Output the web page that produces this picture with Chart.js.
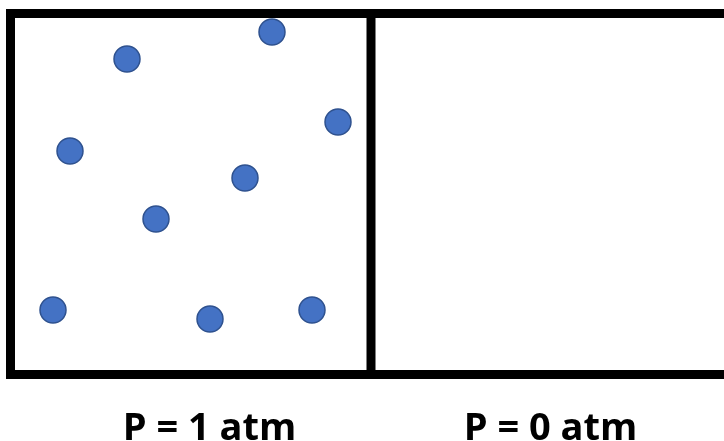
<!DOCTYPE html>
<html>
<head>
<meta charset="utf-8">
<script src="https://cdn.jsdelivr.net/npm/chart.js@4/dist/chart.umd.min.js"></script>
<style>
  html, body { margin: 0; padding: 0; background: #fff; }
  #wrap { width: 724px; height: 441px; }
</style>
</head>
<body>
<div id="wrap"><canvas id="gasChart" width="724" height="441"></canvas></div>
<script>
// Molecule positions (diagram units, y grows downward)
const moleculeX = [127, 272, 338, 70, 245, 156, 53, 210, 312];
const moleculeY = [59, 32, 122, 151, 178, 219, 310, 319, 310];

// Container walls: outer box (open to the right) and the divider
const wallX = [730, 10.5, 10.5, 730, null, 371, 371];
const wallY = [13.5, 13.5, 374.5, 374.5, null, 13.5, 374.5];

// Pressure labels under each chamber
const labelText = ['P = 1 atm', 'P = 0 atm'];
const labelX = [209.5, 550.5];
const labelY = [440, 440];

const toPoints = (xs, ys) => xs.map((x, i) => (x === null ? { x: null, y: null } : { x: x, y: ys[i] }));

const labelPlugin = {
    id: 'pressureLabels',
    afterDraw(chart) {
        const ctx = chart.ctx;
        const xs = chart.scales.x;
        const ys = chart.scales.y;
        ctx.save();
        ctx.fillStyle = '#000000';
        ctx.font = 'bold 38px "Open Sans"';
        ctx.textAlign = 'center';
        ctx.textBaseline = 'alphabetic';
        labelText.forEach((t, i) => {
            ctx.fillText(t, xs.getPixelForValue(labelX[i]), ys.getPixelForValue(labelY[i]));
        });
        ctx.restore();
    }
};

new Chart(document.getElementById('gasChart').getContext('2d'), {
    type: 'scatter',
    data: {
        datasets: [
            {
                label: 'Walls',
                type: 'line',
                data: toPoints(wallX, wallY),
                borderColor: '#000000',
                borderWidth: 9,
                borderJoinStyle: 'miter',
                borderCapStyle: 'butt',
                pointRadius: 0,
                spanGaps: false,
                fill: false,
                tension: 0,
                clip: false,
                order: 2
            },
            {
                label: 'Molecules',
                data: toPoints(moleculeX, moleculeY),
                backgroundColor: '#4472C4',
                borderColor: '#2F528F',
                borderWidth: 1.5,
                pointRadius: 13,
                pointHoverRadius: 13,
                clip: false,
                order: 1
            }
        ]
    },
    options: {
        responsive: false,
        animation: false,
        layout: { padding: 0, autoPadding: false },
        plugins: {
            legend: { display: false },
            tooltip: { enabled: false }
        },
        scales: {
            x: { type: 'linear', min: 0, max: 724, display: false },
            y: { type: 'linear', min: 0, max: 441, reverse: true, display: false }
        }
    },
    plugins: [labelPlugin]
});
</script>
</body>
</html>
